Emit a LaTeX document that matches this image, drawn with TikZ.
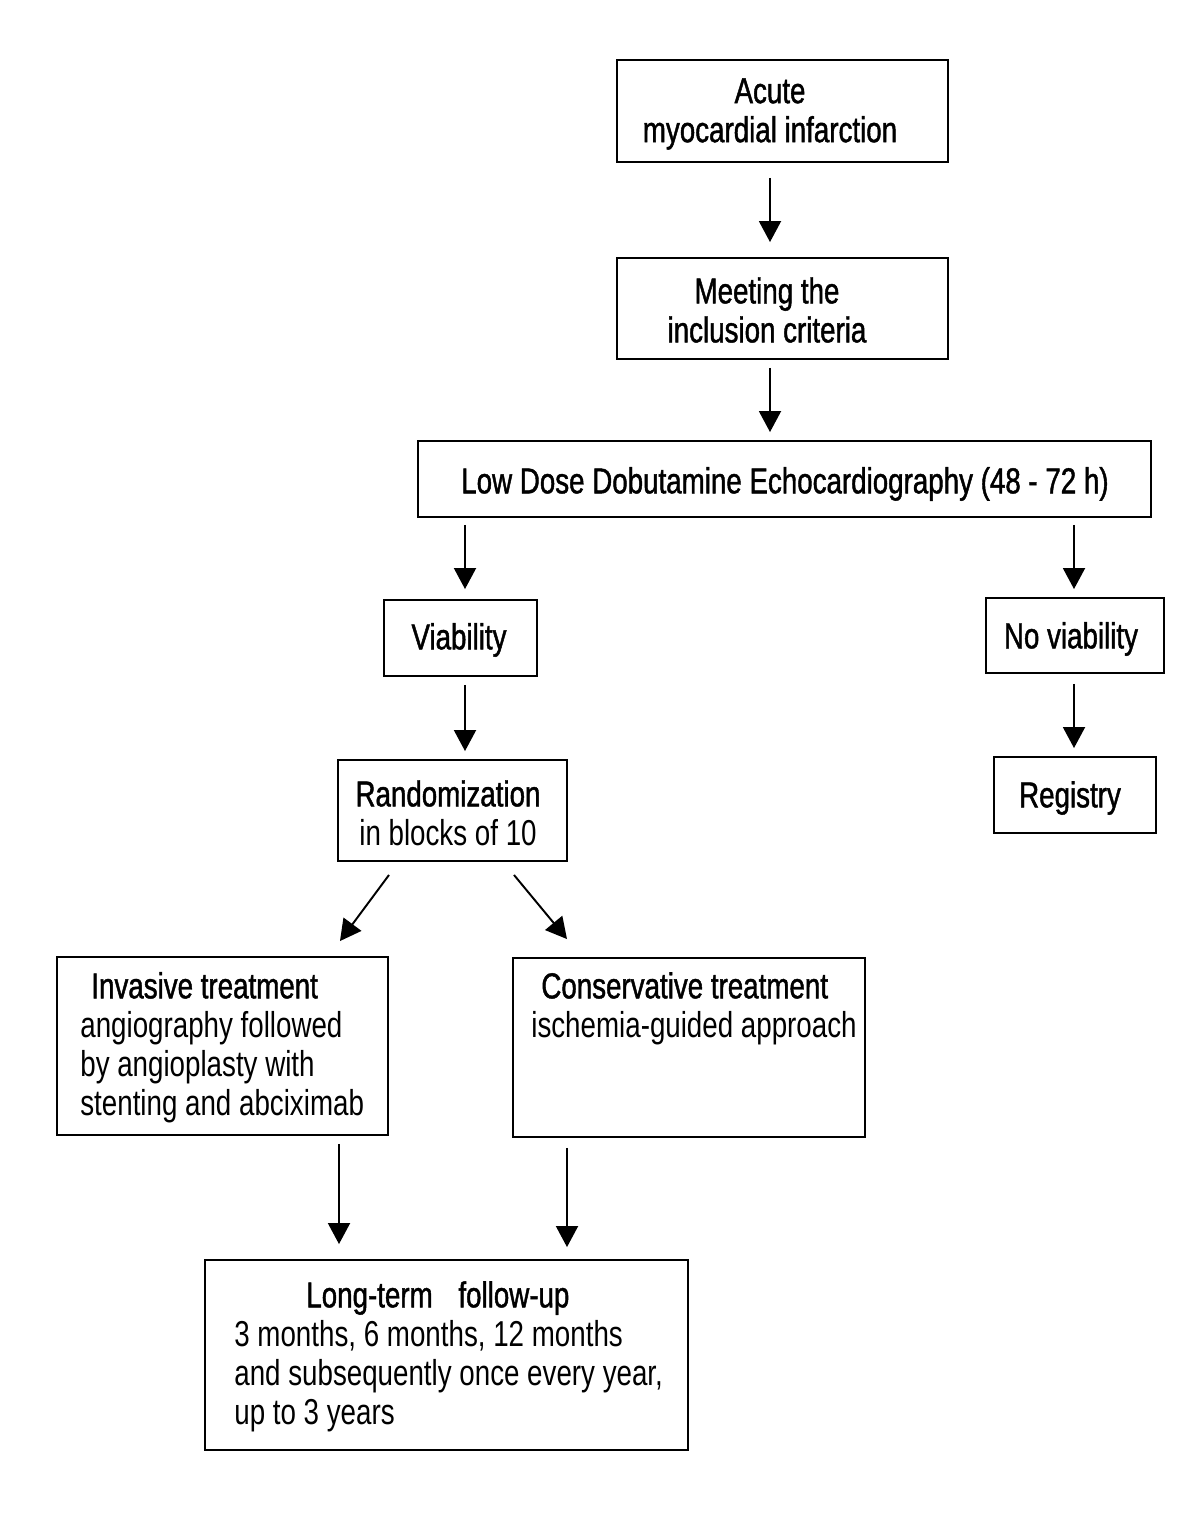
\documentclass[tikz,border=0pt]{standalone}
\usepackage{fontspec}
\setmainfont{Liberation Sans}[FakeStretch=0.77]
\newfontfamily\hd{Liberation Sans}[FakeStretch=0.77,FakeBold=1.2]
\usetikzlibrary{arrows.meta}
\tikzset{
  box/.style={draw, line width=1.1pt, inner sep=0pt},
  txt/.style={inner sep=0pt, font=\fontsize{20.5pt}{22.2pt}\selectfont},
  arr/.style={line width=1.1pt, -{Triangle[length=0.42cm,width=0.44cm]}},
}
\begin{document}
\begin{tikzpicture}[x=0.02cm,y=-0.02cm]
\useasboundingbox[fill=white] (0,0) rectangle (1200,1521);

% boxes
\node[box, minimum width=6.62cm, minimum height=2.04cm] (acute) at (782.5,111) {};
\node[box, minimum width=6.62cm, minimum height=2.02cm] (meet) at (782.5,308.5) {};
\node[box, minimum width=14.66cm, minimum height=1.52cm] (ldde) at (784.5,479) {};
\node[box, minimum width=3.06cm, minimum height=1.52cm] (via) at (460.5,638) {};
\node[box, minimum width=3.56cm, minimum height=1.50cm] (nov) at (1075,635.5) {};
\node[box, minimum width=3.24cm, minimum height=1.52cm] (reg) at (1075,795) {};
\node[box, minimum width=4.58cm, minimum height=2.02cm] (rand) at (452.5,810.5) {};
\node[box, minimum width=6.62cm, minimum height=3.56cm] (inv) at (222.5,1046) {};
\node[box, minimum width=7.04cm, minimum height=3.58cm] (cons) at (689,1047.5) {};
\node[box, minimum width=9.66cm, minimum height=3.80cm] (lt) at (446.5,1355) {};

% texts
\node[txt, align=center] (acute-t) at (770,114) {\hd Acute\\\hd myocardial infarction};
\node[txt, align=center] (meet-t) at (767,310) {\hd Meeting the\\\hd inclusion criteria};
\node[txt] (ldde-t) at (785,484) {\hd Low Dose Dobutamine Echocardiography (48 - 72 h)};
\node[txt] (via-t) at (459,640) {\hd Viability};
\node[txt] (nov-t) at (1071,639) {\hd No viability};
\node[txt] (reg-t) at (1070,798) {\hd Registry};
\node[txt, align=center] (rand-t) at (448,813) {\hd Randomization\\in blocks of 10};
\node[txt, align=left, anchor=west] (inv-t) at (80,1047.5)
  {\hspace*{0.22cm}\hd Invasive treatment\\angiography followed\\by angioplasty with\\stenting and abciximab};
\node[txt, align=left, anchor=west] (cons-t) at (531,1008.5)
  {\hspace*{0.2cm}\hd Conservative treatment\\ischemia-guided approach};
\node[txt, align=left, anchor=west] (lt-t) at (234,1356.5)
  {\hspace*{1.44cm}{\hd Long-term\hspace{0.36cm} follow-up}\\3 months, 6 months, 12 months\\and subsequently once every year,\\up to 3 years};

% x positions of vertical connectors
\coordinate (xa) at (770,0);
\coordinate (xb) at (465,0);
\coordinate (xc) at (1074,0);
\coordinate (xd) at (339,0);
\coordinate (xe) at (567,0);

% connectors
\draw[arr, shorten <=0.3cm, shorten >=0.3cm] (acute.south -| xa) -- (meet.north -| xa);
\draw[arr, shorten <=0.16cm, shorten >=0.16cm] (meet.south -| xa) -- (ldde.north -| xa);
\draw[arr, shorten <=0.14cm, shorten >=0.2cm] (ldde.south -| xb) -- (via.north -| xb);
\draw[arr, shorten <=0.14cm, shorten >=0.16cm] (ldde.south -| xc) -- (nov.north -| xc);
\draw[arr, shorten <=0.16cm, shorten >=0.16cm] (via.south -| xb) -- (rand.north -| xb);
\draw[arr, shorten <=0.2cm, shorten >=0.16cm] (nov.south -| xc) -- (reg.north -| xc);
\draw[arr] ([xshift=-1.27cm,yshift=-0.26cm]rand.south) -- ([xshift=2.35cm,yshift=0.3cm]inv.north);
\draw[arr] ([xshift=1.23cm,yshift=-0.26cm]rand.south) -- ([xshift=-2.44cm,yshift=0.36cm]cons.north);
\draw[arr, shorten <=0.16cm, shorten >=0.3cm] (inv.south -| xd) -- (lt.north -| xd);
\draw[arr, shorten <=0.2cm, shorten >=0.24cm] (cons.south -| xe) -- (lt.north -| xe);
\end{tikzpicture}
\end{document}
